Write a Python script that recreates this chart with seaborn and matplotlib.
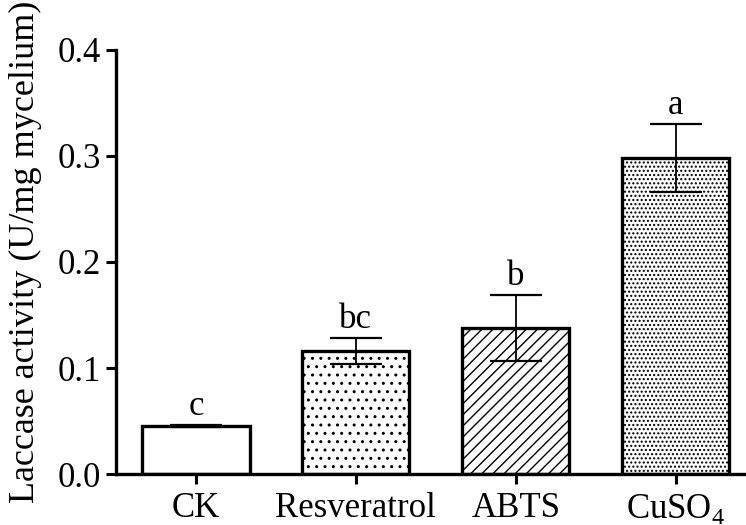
import matplotlib
matplotlib.use("Agg")
import matplotlib.pyplot as plt
import seaborn as sns
import pandas as pd

categories = ["CK", "Resveratrol", "ABTS", "CuSO4"]
tick_labels = ["CK", "Resveratrol", "ABTS", "CuSO$_4$"]
means = [0.045, 0.116, 0.138, 0.298]
errors = [0.001, 0.012, 0.031, 0.032]
letters = ["c", "bc", "b", "a"]
hatches = ["", "..", "///", "...."]

sns.set_theme(style="ticks")
plt.rcParams["font.family"] = ["Liberation Serif", "DejaVu Serif"]
plt.rcParams["mathtext.fontset"] = "custom"
plt.rcParams["mathtext.rm"] = "Liberation Serif"
plt.rcParams["hatch.linewidth"] = 1.0
plt.rcParams["hatch.color"] = "black"
plt.rcParams["text.color"] = "black"
plt.rcParams["axes.labelcolor"] = "black"
plt.rcParams["xtick.color"] = "black"
plt.rcParams["ytick.color"] = "black"

df = pd.DataFrame({"group": categories, "activity": means})

fig = plt.figure(figsize=(7.46, 5.25), dpi=100)
ax = fig.add_axes([0.1555, 0.097, 0.8445, 0.808])

sns.barplot(data=df, x="group", y="activity", order=categories, color="white",
            edgecolor="black", linewidth=2.4, width=0.67, errorbar=None, ax=ax)
for patch, h in zip(ax.patches, hatches):
    patch.set_facecolor("white")
    patch.set_hatch(h)

ax.errorbar(range(len(categories)), means, yerr=errors, fmt="none",
            ecolor="black", elinewidth=1.3, capsize=19, capthick=1.6, zorder=5)

for i, (m, e, t) in enumerate(zip(means, errors, letters)):
    ax.text(i, m + e + 0.002, t, ha="center", va="bottom", fontsize=25)

ax.set_xlim(-0.5, 3.44)
ax.set_ylim(0, 0.4)
ax.set_yticks([0.0, 0.1, 0.2, 0.3, 0.4])
ax.set_yticklabels(["0.0", "0.1", "0.2", "0.3", "0.4"])
ax.set_xticks(range(len(categories)))
ax.set_xticklabels(tick_labels)
ax.set_xlabel("")
ax.set_ylabel("Laccase activity (U/mg mycelium)", fontsize=26)
ax.yaxis.set_label_coords(-0.117, 0.524)
ax.tick_params(axis="both", labelsize=25, width=2.2, length=7,
               direction="out", pad=4)
ax.tick_params(axis="x", pad=6)
for side in ["left", "bottom"]:
    ax.spines[side].set_linewidth(2.4)
    ax.spines[side].set_color("black")
ax.spines["top"].set_visible(False)
ax.spines["right"].set_visible(False)

fig.savefig("out.png", dpi=100)
